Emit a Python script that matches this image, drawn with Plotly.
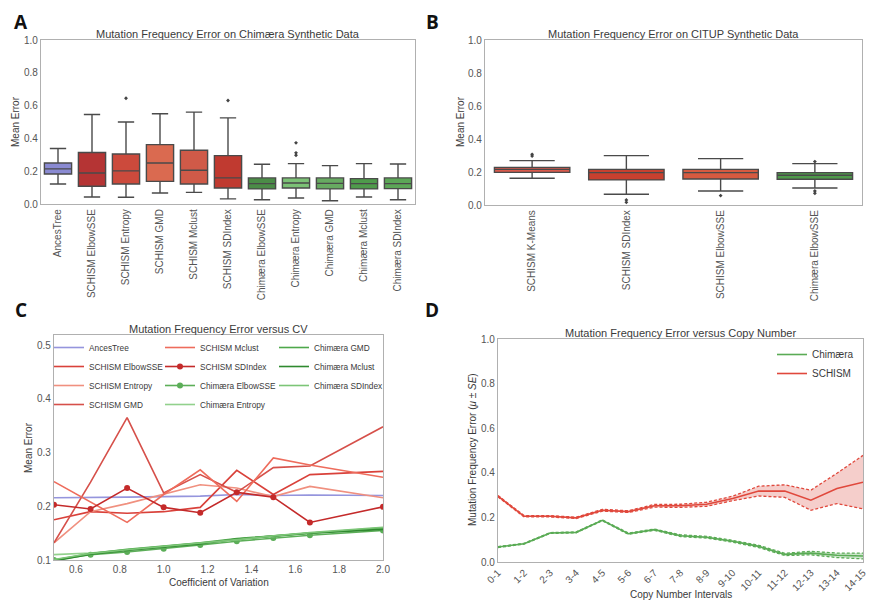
import plotly.graph_objects as go

W, H = 870, 602
def px(x): return x / W
def py(y): return 1 - y / H

FONT = "Liberation Sans, Arial, sans-serif"
TXT = "#3a3a3a"
TICK = "#555555"
FRAME = "#b0b0b0"

# ---------------- Panel A data ----------------
a_methods = ["AncesTree", "SCHISM ElbowSSE", "SCHISM Entropy", "SCHISM GMD", "SCHISM Mclust",
             "SCHISM SDIndex", "Chimæra ElbowSSE", "Chimæra Entropy", "Chimæra GMD",
             "Chimæra Mclust", "Chimæra SDIndex"]
a_low = [0.122, 0.043, 0.041, 0.067, 0.071, 0.031, 0.026, 0.037, 0.020, 0.043, 0.026]
a_q1 = [0.183, 0.108, 0.122, 0.138, 0.122, 0.098, 0.092, 0.098, 0.092, 0.092, 0.094]
a_med = [0.214, 0.189, 0.202, 0.250, 0.206, 0.159, 0.124, 0.128, 0.126, 0.124, 0.124]
a_q3 = [0.250, 0.314, 0.305, 0.362, 0.328, 0.295, 0.159, 0.159, 0.159, 0.155, 0.159]
a_high = [0.338, 0.546, 0.500, 0.550, 0.560, 0.525, 0.242, 0.246, 0.234, 0.246, 0.244]
a_colors = ["#8a8ad2", "#b53434", "#cc4a3c", "#da6a50", "#d05a48", "#c03a30",
            "#4b8c47", "#7cc276", "#67aa61", "#4f9b4b", "#5ca657"]
a_out_x = ["SCHISM Entropy", "SCHISM SDIndex", "Chimæra Entropy", "Chimæra Entropy", "Chimæra Entropy"]
a_out_y = [0.645, 0.631, 0.373, 0.312, 0.297]

# ---------------- Panel B data ----------------
b_methods = ["SCHISM K-Means", "SCHISM SDIndex", "SCHISM ElbowSSE", "Chimæra ElbowSSE"]
b_low = [0.162, 0.065, 0.085, 0.103]
b_q1 = [0.198, 0.152, 0.158, 0.156]
b_med = [0.216, 0.196, 0.196, 0.180]
b_q3 = [0.228, 0.216, 0.216, 0.196]
b_high = [0.269, 0.299, 0.281, 0.251]
b_colors = ["#d95a4c", "#c8402f", "#d65a40", "#4e9a4a"]
b_out_x = ["SCHISM K-Means", "SCHISM K-Means", "SCHISM SDIndex", "SCHISM SDIndex",
           "SCHISM ElbowSSE", "Chimæra ElbowSSE", "Chimæra ElbowSSE", "Chimæra ElbowSSE"]
b_out_y = [0.307, 0.297, 0.030, 0.016, 0.057, 0.263, 0.085, 0.071]

# ---------------- Panel C data ----------------
cv = [0.5, 0.6667, 0.8333, 1.0, 1.1667, 1.3333, 1.5, 1.6667, 2.0]
c_names = ["AncesTree", "SCHISM ElbowSSE", "SCHISM Entropy", "SCHISM GMD", "SCHISM Mclust",
           "SCHISM SDIndex", "Chimæra ElbowSSE", "Chimæra Entropy", "Chimæra GMD",
           "Chimæra Mclust", "Chimæra SDIndex"]
c_ancestree = [0.216, 0.216, 0.217, 0.218, 0.219, 0.222, 0.220, 0.221, 0.220]
c_schism_elbow = [0.175, 0.190, 0.187, 0.190, 0.198, 0.267, 0.222, 0.259, 0.265]
c_schism_entropy = [0.132, 0.190, 0.205, 0.222, 0.240, 0.234, 0.218, 0.237, 0.216]
c_schism_gmd = [0.132, 0.245, 0.365, 0.225, 0.259, 0.226, 0.272, 0.275, 0.348]
c_schism_mclust = [0.246, 0.208, 0.170, 0.222, 0.268, 0.209, 0.290, 0.277, 0.254]
c_schism_sdindex = [0.203, 0.195, 0.234, 0.198, 0.188, 0.226, 0.217, 0.170, 0.199]
c_chim_elbow = [0.100, 0.110, 0.115, 0.121, 0.128, 0.135, 0.141, 0.146, 0.155]
c_chim_entropy = [0.110, 0.113, 0.119, 0.125, 0.131, 0.138, 0.144, 0.150, 0.158]
c_chim_gmd = [0.100, 0.112, 0.120, 0.126, 0.132, 0.140, 0.145, 0.151, 0.160]
c_chim_mclust = [0.098, 0.111, 0.118, 0.124, 0.130, 0.139, 0.144, 0.150, 0.157]
c_chim_sdindex = [0.101, 0.112, 0.119, 0.125, 0.131, 0.138, 0.145, 0.151, 0.161]
c_series = [c_ancestree, c_schism_elbow, c_schism_entropy, c_schism_gmd, c_schism_mclust,
            c_schism_sdindex, c_chim_elbow, c_chim_entropy, c_chim_gmd, c_chim_mclust, c_chim_sdindex]
c_colors = ["rgba(130,130,215,0.85)", "#d9413a", "#f0907f", "#d6504a", "#ee6c5c", "#c42a2a",
            "#5cae58", "#92d18c", "#4ea84b", "#2f8a2f", "#7cc577"]
c_markers = [False, False, False, False, False, True, True, False, False, False, False]
c_legend = ["legend", "legend", "legend", "legend", "legend2", "legend2", "legend2", "legend2",
            "legend3", "legend3", "legend3"]

# ---------------- Panel D data ----------------
cn_intervals = ["0-1", "1-2", "2-3", "3-4", "4-5", "5-6", "6-7", "7-8", "8-9", "9-10",
                "10-11", "11-12", "12-13", "13-14", "14-15"]
d_schism_mean = [0.295, 0.205, 0.205, 0.198, 0.232, 0.226, 0.252, 0.252, 0.259, 0.285,
                 0.318, 0.318, 0.277, 0.330, 0.358]
d_schism_se = [0.003, 0.003, 0.003, 0.003, 0.004, 0.004, 0.006, 0.007, 0.009, 0.010,
               0.022, 0.028, 0.045, 0.068, 0.120]
d_chim_mean = [0.067, 0.082, 0.130, 0.133, 0.187, 0.127, 0.145, 0.118, 0.111, 0.093,
               0.070, 0.034, 0.040, 0.030, 0.027]
d_chim_se = [0.002, 0.002, 0.002, 0.002, 0.002, 0.003, 0.003, 0.004, 0.004, 0.004,
             0.005, 0.005, 0.008, 0.010, 0.013]

fig = go.Figure()

# ---- Panel A boxes ----
for i, m in enumerate(a_methods):
    fig.add_trace(go.Box(
        x=[m], q1=[a_q1[i]], median=[a_med[i]], q3=[a_q3[i]],
        lowerfence=[a_low[i]], upperfence=[a_high[i]],
        fillcolor=a_colors[i], line=dict(color="#4a4a4a", width=1.4),
        width=0.8, whiskerwidth=0.6, boxpoints=False, showlegend=False,
        xaxis="x", yaxis="y", hoverinfo="skip"))
fig.add_trace(go.Scatter(x=a_out_x, y=a_out_y, mode="markers",
                         marker=dict(symbol="diamond", size=3, color="#444"),
                         showlegend=False, xaxis="x", yaxis="y"))

# ---- Panel B boxes ----
for i, m in enumerate(b_methods):
    fig.add_trace(go.Box(
        x=[m], q1=[b_q1[i]], median=[b_med[i]], q3=[b_q3[i]],
        lowerfence=[b_low[i]], upperfence=[b_high[i]],
        fillcolor=b_colors[i], line=dict(color="#4a4a4a", width=1.4),
        width=0.8, whiskerwidth=0.6, boxpoints=False, showlegend=False,
        xaxis="x2", yaxis="y2", hoverinfo="skip"))
fig.add_trace(go.Scatter(x=b_out_x, y=b_out_y, mode="markers",
                         marker=dict(symbol="diamond", size=3, color="#444"),
                         showlegend=False, xaxis="x2", yaxis="y2"))

# ---- Panel C lines ----
for i, name in enumerate(c_names):
    fig.add_trace(go.Scatter(
        x=cv, y=c_series[i], name=name,
        mode="lines+markers" if c_markers[i] else "lines",
        line=dict(color=c_colors[i], width=1.6),
        marker=dict(size=6, color=c_colors[i]),
        legend=c_legend[i], xaxis="x3", yaxis="y3"))

# ---- Panel D ----
def band(mean, se, color, fill, name):
    lo = [m - s for m, s in zip(mean, se)]
    hi = [m + s for m, s in zip(mean, se)]
    fig.add_trace(go.Scatter(x=cn_intervals, y=lo, mode="lines",
                             line=dict(color=color, width=1.3, dash="3px,2px"),
                             showlegend=False, xaxis="x4", yaxis="y4"))
    fig.add_trace(go.Scatter(x=cn_intervals, y=hi, mode="lines", fill="tonexty",
                             fillcolor=fill, line=dict(color=color, width=1.3, dash="3px,2px"),
                             showlegend=False, xaxis="x4", yaxis="y4"))
    fig.add_trace(go.Scatter(x=cn_intervals, y=mean, mode="lines", name=name,
                             line=dict(color=color, width=1.6), legend="legend4",
                             xaxis="x4", yaxis="y4"))

band(d_chim_mean, d_chim_se, "#5aab55", "rgba(90,171,85,0.3)", "Chimæra")
band(d_schism_mean, d_schism_se, "#e0483c", "rgba(220,80,70,0.28)", "SCHISM")

# ---------------- Layout ----------------
def frame_axis(**kw):
    d = dict(showline=True, linecolor=FRAME, linewidth=1.3, mirror=True,
             showgrid=False, zeroline=False, ticks="", automargin=False,
             tickfont=dict(size=10, color=TICK, family=FONT))
    d.update(kw)
    return d

layout = dict(
    template="none",
    width=W, height=H, margin=dict(l=0, r=0, t=0, b=0, pad=0), autosize=False,
    paper_bgcolor="white", plot_bgcolor="white",
    font=dict(family=FONT, color=TXT),
    boxmode="overlay",
    xaxis=frame_axis(domain=[px(41), px(415)], anchor="y", type="category",
                     categoryorder="array", categoryarray=a_methods,
                     range=[-0.5, 10.5], tickangle=-90),
    yaxis=frame_axis(domain=[py(204), py(40)], anchor="x", range=[0, 1],
                     dtick=0.2, tickformat=".1f"),
    xaxis2=frame_axis(domain=[px(485), px(862)], anchor="y2", type="category",
                      categoryorder="array", categoryarray=b_methods,
                      range=[-0.5, 3.5], tickangle=-90),
    yaxis2=frame_axis(domain=[py(205), py(40)], anchor="x2", range=[0, 1],
                      dtick=0.2, tickformat=".1f"),
    xaxis3=frame_axis(domain=[px(54), px(383)], anchor="y3", range=[0.5, 2.0],
                      tickvals=[0.6, 0.8, 1.0, 1.2, 1.4, 1.6, 1.8, 2.0], tickformat=".1f"),
    yaxis3=frame_axis(domain=[py(560), py(335)], anchor="x3", range=[0.1, 0.519],
                      tickvals=[0.1, 0.2, 0.3, 0.4, 0.5], tickformat=".1f"),
    xaxis4=frame_axis(domain=[px(498), px(863)], anchor="y4", type="category",
                      range=[0, 14], tickangle=-45),
    yaxis4=frame_axis(domain=[py(562), py(339)], anchor="x4", range=[0, 1],
                      dtick=0.2, tickformat=".1f"),
)

leg_common = dict(xanchor="left", yanchor="top", bgcolor="rgba(0,0,0,0)",
                  font=dict(size=8.3, color=TXT, family=FONT), itemwidth=30,
                  tracegroupgap=0, orientation="v", traceorder="normal", borderwidth=0)
layout["legend"] = dict(x=px(49), y=py(333), **leg_common)
layout["legend2"] = dict(x=px(160), y=py(333), **leg_common)
layout["legend3"] = dict(x=px(274), y=py(333), **leg_common)
layout["legend4"] = dict(x=px(772), y=py(340), xanchor="left", yanchor="top",
                         bgcolor="rgba(0,0,0,0)", itemwidth=30, traceorder="normal",
                         borderwidth=0, font=dict(size=10, color=TXT, family=FONT))

annotations = []
def ann(text, x, y, size=10.5, angle=0, xanchor="center", yanchor="middle", bold=False,
        family=FONT, color=TXT):
    annotations.append(dict(text=f"<b>{text}</b>" if bold else text, x=px(x), y=py(y),
                            xref="paper", yref="paper", showarrow=False, textangle=angle,
                            xanchor=xanchor, yanchor=yanchor,
                            font=dict(size=size, family=family, color=color)))

ann("Mutation Frequency Error on Chimæra Synthetic Data", 228, 34, size=11)
ann("Mutation Frequency Error on CITUP Synthetic Data", 673.5, 34, size=11)
ann("Mutation Frequency Error versus CV", 218.5, 329, size=11)
ann("Mutation Frequency Error versus Copy Number", 680.5, 333, size=11)
ann("Mean Error", 15, 122, size=10, angle=-90)
ann("Mean Error", 460, 122, size=10, angle=-90)
ann("Mean Error", 28, 448, size=10, angle=-90)
ann("Mutation Frequency Error (<i>μ</i> ± <i>SE</i>)", 472, 450, size=10, angle=-90)
ann("Coefficient of Variation", 218.5, 582, size=10)
ann("Copy Number Intervals", 680.5, 594, size=10)
LET = "Open Sans, Liberation Sans, sans-serif"
ann("A", 21, 22, size=19, bold=True, family=LET, color="#111")
ann("B", 432, 22, size=19, bold=True, family=LET, color="#111")
ann("C", 21, 310, size=19, bold=True, family=LET, color="#111")
ann("D", 432, 310, size=19, bold=True, family=LET, color="#111")
layout["annotations"] = annotations

fig.update_layout(**layout)
fig.write_html("out.html", config={"displayModeBar": False},
               post_script="document.body.style.margin='0';document.body.style.overflow='hidden';")
